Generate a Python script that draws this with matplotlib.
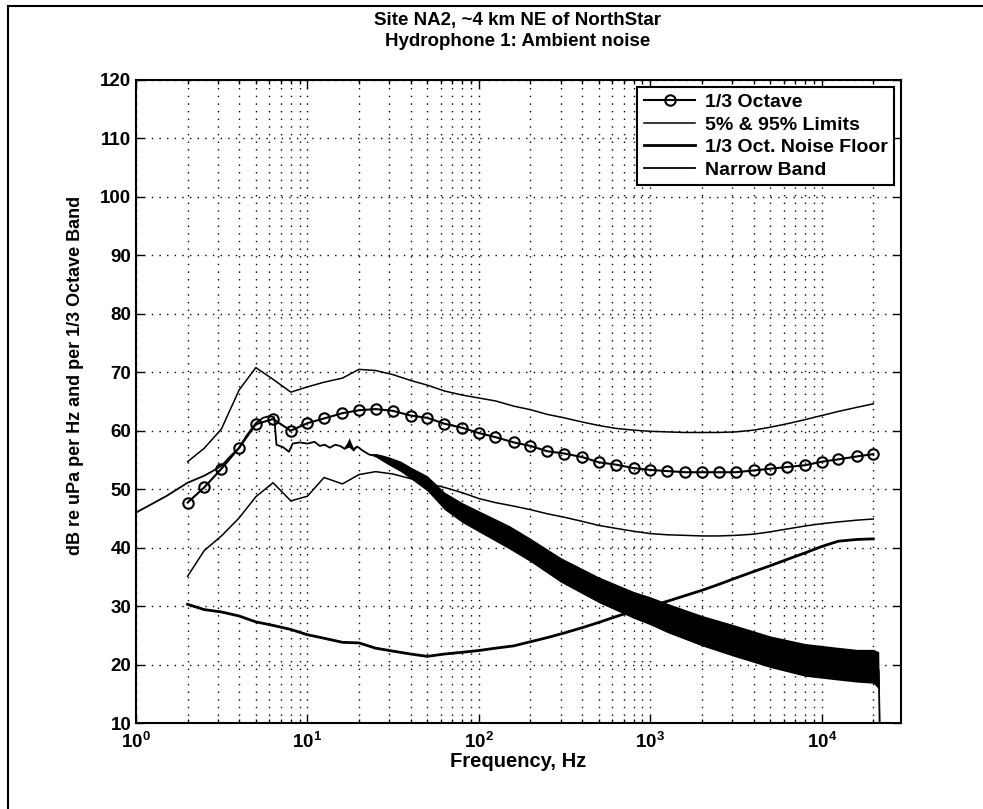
import numpy as np
import matplotlib
matplotlib.use("Agg")
import matplotlib.pyplot as plt
from matplotlib.lines import Line2D

plt.rcParams['font.family'] = ['Liberation Sans', 'DejaVu Sans']
plt.rcParams['font.weight'] = 'bold'
plt.rcParams['mathtext.fontset'] = 'custom'
plt.rcParams['mathtext.rm'] = 'Liberation Sans:bold'
plt.rcParams['mathtext.bf'] = 'Liberation Sans:bold'

# 1/3 octave band centre frequencies (Hz)
bands = [2, 2.5, 3.15, 4, 5, 6.3, 8, 10, 12.5, 16, 20, 25, 31.5, 40, 50, 63, 80,
         100, 125, 160, 200, 250, 315, 400, 500, 630, 800, 1000, 1250, 1600,
         2000, 2500, 3150, 4000, 5000, 6300, 8000, 10000, 12500, 16000, 20000]

third_oct = [47.7, 50.3, 53.5, 57.1, 61.1, 62.0, 60.0, 61.3, 62.1, 63.0, 63.5, 63.7,
             63.4, 62.6, 62.2, 61.2, 60.5, 59.6, 58.9, 58.0, 57.4, 56.5, 56.1, 55.5,
             54.6, 54.2, 53.6, 53.3, 53.1, 52.9, 52.9, 52.9, 52.9, 53.2, 53.5, 53.8,
             54.1, 54.7, 55.1, 55.6, 56.0]

pct95 = [54.7, 57.0, 60.3, 67.0, 70.8, 68.8, 66.6, 67.5, 68.3, 69.0, 70.5, 70.3,
         69.6, 68.6, 67.8, 66.8, 66.1, 65.6, 65.1, 64.2, 63.6, 62.8, 62.2, 61.5,
         60.9, 60.4, 60.1, 59.9, 59.8, 59.7, 59.7, 59.7, 59.8, 60.1, 60.6, 61.2,
         61.9, 62.6, 63.3, 64.0, 64.6]

pct5 = [35.1, 39.5, 42.0, 45.1, 48.7, 51.1, 48.0, 48.8, 52.0, 50.9, 52.5, 53.0,
        52.6, 51.8, 51.0, 50.3, 49.4, 48.4, 47.7, 47.1, 46.5, 45.8, 45.2, 44.5,
        43.8, 43.3, 42.8, 42.4, 42.2, 42.1, 42.0, 42.0, 42.1, 42.3, 42.7, 43.2,
        43.7, 44.1, 44.4, 44.7, 44.9]

noise_floor = [30.3, 29.4, 29.0, 28.3, 27.3, 26.7, 26.0, 25.1, 24.5, 23.8, 23.7, 22.8,
               22.3, 21.8, 21.4, 21.8, 22.1, 22.4, 22.8, 23.2, 23.9, 24.6, 25.4, 26.3,
               27.2, 28.2, 29.2, 30.0, 30.8, 31.8, 32.7, 33.7, 34.8, 35.9, 36.9, 38.0,
               39.1, 40.2, 41.1, 41.4, 41.5]

# narrow band spectrum: level and half-width of the noisy trace
nb_freq = [1, 1.5, 2, 2.5, 2.8, 3.15, 3.6, 4, 4.4, 5, 5.5, 6, 6.4, 6.6, 7.2, 7.8,
           8.2, 9, 10, 11, 11.8, 12.6, 13.5, 14.5, 15.5, 16.5, 17.5, 18.5, 19.5,
           21, 23, 25, 27, 30, 35, 40, 50, 63, 80, 100, 150, 200, 300, 500, 800,
           1000, 1250, 2000, 3000, 5000, 8000, 12000, 16000, 20000, 21500, 22050]
nb_level = [46.0, 48.8, 51.1, 52.3, 53.1, 54.0, 55.8, 57.1, 59.1, 61.3, 62.2, 62.5,
            62.3, 57.6, 57.2, 56.4, 57.8, 58.0, 57.8, 58.1, 57.4, 57.6, 57.1, 57.6,
            57.4, 56.9, 58.0, 56.8, 57.3, 56.6, 55.9, 55.8, 55.4, 54.8, 53.9, 52.8,
            51.0, 48.0, 46.0, 44.5, 41.8, 39.6, 36.2, 32.8, 30.2, 29.2, 28.0, 25.8,
            24.2, 22.2, 20.8, 20.2, 19.8, 19.7, 19.0, 0.0]
nb_spread = [0, 0, 0, 0, 0, 0, 0, 0, 0, 0, 0, 0, 0, 0, 0, 0, 0, 0, 0, 0, 0, 0, 0, 0,
             0, 0, 0.8, 0.3, 0, 0, 0, 0.3, 0.5, 0.7, 0.9, 1.0, 1.3, 1.5, 1.7, 1.8,
             2.0, 2.0, 2.1, 2.2, 2.3, 2.4, 2.5, 2.6, 2.7, 2.7, 2.8, 2.8, 2.8, 2.9,
             3.2, 0.0]

W, H = 983, 809
fig = plt.figure(figsize=(W / 100, H / 100), dpi=100)
ax = fig.add_axes([136 / W, 1 - 723 / H, (901 - 136) / W, (723 - 80) / H])

grid_style = dict(color='black', linestyle=(0, (1, 4.5)), linewidth=1.0)
ax.grid(True, which='major', axis='both', **grid_style)
ax.grid(True, which='minor', axis='x', **grid_style)
ax.set_axisbelow(True)

lvl = np.array(nb_level)
spr = np.array(nb_spread)
ax.fill_between(nb_freq, lvl - spr, lvl + spr, color='black', linewidth=0)
ax.plot(nb_freq, nb_level, color='black', linewidth=1.3)

ax.plot(bands, pct95, color='black', linewidth=1.1)
ax.plot(bands, pct5, color='black', linewidth=1.1)
ax.plot(bands, noise_floor, color='black', linewidth=2.0)
ax.plot(bands, third_oct, color='black', linewidth=1.5, marker='o', markersize=7.5,
        markerfacecolor='none', markeredgewidth=1.5)

ax.set_xscale('log')
ax.set_xlim(1, 2.9e4)
ax.set_ylim(10, 120)
ax.set_yticks(range(10, 121, 10))
ax.set_xticks([1, 10, 100, 1000, 10000])
ax.set_xticklabels([r'$10^{%d}$' % i for i in range(5)])
ax.tick_params(which='both', direction='in', top=True, right=True, labelsize=13.5)
ax.tick_params(axis='x', pad=6)
ax.tick_params(which='major', length=6, width=1)
ax.tick_params(which='minor', length=3, width=1)
for s in ax.spines.values():
    s.set_linewidth(1.5)

ax.set_xlabel('Frequency, Hz', fontsize=14.5, fontweight='bold', labelpad=0)
ax.set_ylabel('dB re uPa per Hz and per 1/3 Octave Band', fontsize=13, fontweight='bold')
ax.yaxis.set_label_coords((84 - 136) / 765, (723 - 375) / 643)

fig.text(518 / W, 1 - 20 / H, 'Site NA2, ~4 km NE of NorthStar', ha='center', va='center',
         fontsize=13.5, fontweight='bold')
fig.text(518 / W, 1 - 41 / H, 'Hydrophone 1: Ambient noise', ha='center', va='center',
         fontsize=13.5, fontweight='bold')

handles = [
    Line2D([], [], color='black', linewidth=1.5, marker='o', markersize=7.5,
           markerfacecolor='none', markeredgewidth=1.5),
    Line2D([], [], color='black', linewidth=1.1),
    Line2D([], [], color='black', linewidth=2.0),
    Line2D([], [], color='black', linewidth=1.3),
]
labels = ['1/3 Octave', '5% & 95% Limits', '1/3 Oct. Noise Floor', 'Narrow Band']
leg = ax.legend(handles, labels, loc='upper right', fontsize=14, fancybox=False,
                framealpha=1, edgecolor='black', borderaxespad=0.35, handlelength=2.6,
                labelspacing=0.25, borderpad=0.35, handletextpad=0.5)
leg.get_frame().set_linewidth(1.5)

# scan frame lines
fig.add_artist(Line2D([8 / W, 8 / W], [0, 1 - 6 / H], color='black', linewidth=1.5,
                      transform=fig.transFigure))
fig.add_artist(Line2D([8 / W, 1], [1 - 6 / H, 1 - 6 / H], color='black', linewidth=1.5,
                      transform=fig.transFigure))

fig.savefig('out.png', dpi=100)
